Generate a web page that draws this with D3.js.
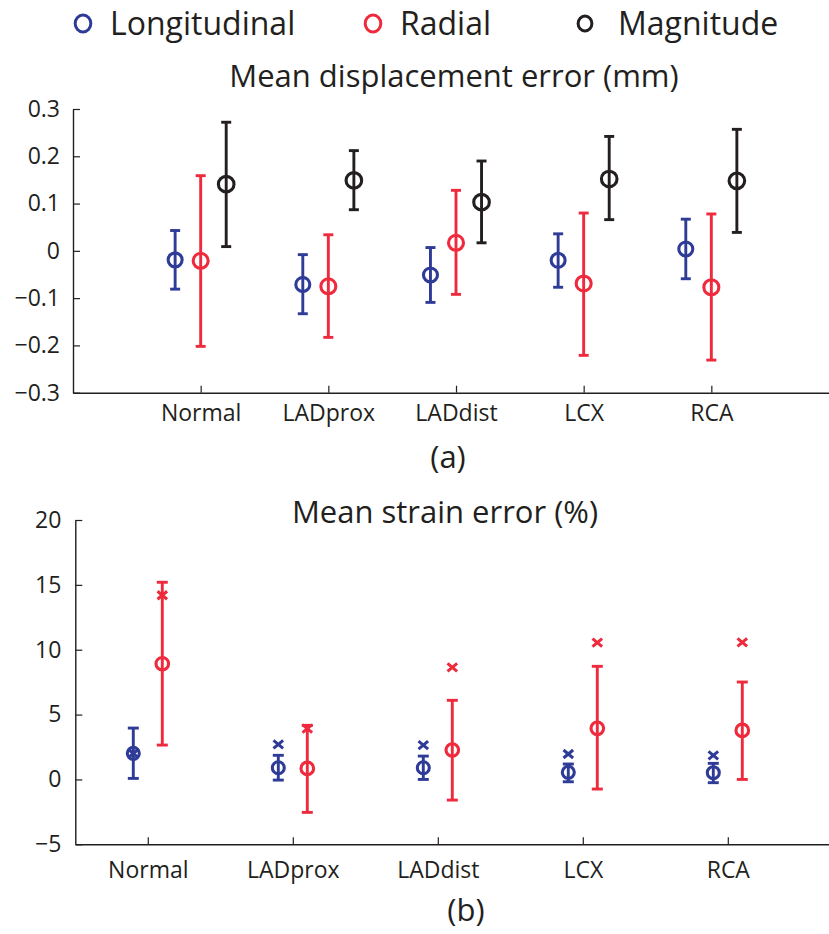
<!DOCTYPE html>
<html>
<head>
<meta charset="utf-8">
<script src="https://cdn.jsdelivr.net/npm/d3@7"></script>
<style>
  body { margin: 0; background: #fff; }
  svg { display: block; font-family: "Open Sans", sans-serif; }
</style>
</head>
<body>
<svg id="chart" width="829" height="934"></svg>
<script>
// categories (shared by both panels)
const categories = ["Normal", "LADprox", "LADdist", "LCX", "RCA"];

// (a) mean displacement error (mm): mean and error-bar ends
const dispLongMean = [-0.019, -0.071, -0.051, -0.020, 0.004];
const dispLongLow  = [-0.081, -0.133, -0.109, -0.077, -0.059];
const dispLongHigh = [0.043, -0.008, 0.007, 0.036, 0.067];
const dispRadMean  = [-0.021, -0.075, 0.017, -0.069, -0.077];
const dispRadLow   = [-0.202, -0.183, -0.092, -0.221, -0.231];
const dispRadHigh  = [0.159, 0.034, 0.128, 0.080, 0.078];
const dispMagMean  = [0.141, 0.149, 0.103, 0.152, 0.148];
const dispMagLow   = [0.009, 0.087, 0.017, 0.066, 0.039];
const dispMagHigh  = [0.272, 0.212, 0.190, 0.242, 0.257];
const dispTicks = [-0.3, -0.2, -0.1, 0, 0.1, 0.2, 0.3];

// (b) mean strain error (%): mean, error-bar ends and the x markers
const strainLongMean = [2.01, 0.90, 0.90, 0.55, 0.52];
const strainLongLow  = [0.08, -0.05, 0.0, -0.18, -0.25];
const strainLongHigh = [3.96, 1.86, 1.80, 1.19, 1.24];
const strainLongX    = [2.0, 2.7, 2.65, 1.96, 1.86];
const strainRadMean  = [8.92, 0.85, 2.27, 3.94, 3.78];
const strainRadLow   = [2.65, -2.54, -1.59, -0.74, 0.0];
const strainRadHigh  = [15.2, 4.17, 6.1, 8.72, 7.51];
const strainRadX     = [14.2, 3.91, 8.64, 10.54, 10.57];
const strainTicks = [-5, 0, 5, 10, 15, 20];

const legendNames = ["Longitudinal", "Radial", "Magnitude"];

const blue = "#2e3b97", red = "#ee2a3c", black = "#231f20";
const fmt = v => (v < 0 ? "\u2212" : "") + Math.abs(v);

const svg = d3.select("#chart");

// legend
const legendX = [83, 373, 585];
const legendColors = [blue, red, black];
const legendR = [8.5, 8.5, 7.5];
const legend = svg.append("g");
legendNames.forEach((name, i) => {
  legend.append("ellipse")
    .attr("cx", legendX[i]).attr("cy", 23.5)
    .attr("rx", legendR[i] * 0.92).attr("ry", legendR[i])
    .attr("fill", "none")
    .attr("stroke", legendColors[i])
    .attr("stroke-width", 3);
  legend.append("text")
    .attr("x", legendX[i] + (i == 2 ? 33 : 27)).attr("y", 35)
    .attr("font-size", 32)
    .attr("fill", black)
    .text(name);
});

function styleAxis(ax) {
  ax.select(".domain").attr("stroke", black).attr("stroke-width", 1.4);
  ax.selectAll(".tick line").attr("stroke", black).attr("stroke-width", 1.2);
  ax.selectAll(".tick text").attr("fill", black).attr("font-size", 23)
    .attr("font-family", "Open Sans, sans-serif");
}

function drawErrorSeries(g, x, y, mean, low, high, offset, color, r, cap) {
  const data = categories.map((c, i) => ({ i: i + 1, m: mean[i], lo: low[i], hi: high[i] }));
  const s = g.append("g")
    .attr("stroke", color)
    .attr("stroke-width", 2.9)
    .attr("fill", "none");
  s.selectAll(".bar").data(data).enter().append("line")
    .attr("x1", d => x(d.i + offset)).attr("x2", d => x(d.i + offset))
    .attr("y1", d => y(d.lo)).attr("y2", d => y(d.hi));
  s.selectAll(".capTop").data(data).enter().append("line")
    .attr("x1", d => x(d.i + offset) - cap).attr("x2", d => x(d.i + offset) + cap)
    .attr("y1", d => y(d.hi)).attr("y2", d => y(d.hi));
  s.selectAll(".capBot").data(data).enter().append("line")
    .attr("x1", d => x(d.i + offset) - cap).attr("x2", d => x(d.i + offset) + cap)
    .attr("y1", d => y(d.lo)).attr("y2", d => y(d.lo));
  s.selectAll("circle").data(data).enter().append("circle")
    .attr("cx", d => x(d.i + offset))
    .attr("cy", d => y(d.m))
    .attr("r", r)
    .attr("stroke-width", 3.1)
    .attr("fill", "none");
}

function drawCrosses(g, x, y, vals, offset, color) {
  const data = vals.map((v, i) => ({ i: i + 1, v: v }));
  g.append("g").selectAll("path").data(data).enter().append("path")
    .attr("transform", d => `translate(${x(d.i + offset)},${y(d.v)})`)
    .attr("d", "M-4.8,-4L4.8,4M-4.8,4L4.8,-4")
    .attr("stroke", color)
    .attr("stroke-width", 3)
    .attr("fill", "none");
}

// ---------- panel (a) ----------
{
  const x = d3.scaleLinear().domain([0, 6]).range([73, 839]);
  const y = d3.scaleLinear().domain([-0.3, 0.3]).range([392.7, 109]);

  svg.append("text")
    .attr("x", 454).attr("y", 87)
    .attr("text-anchor", "middle")
    .attr("font-size", 31)
    .attr("fill", black)
    .text("Mean displacement error (mm)");

  const xa = svg.append("g")
    .attr("transform", `translate(0,${y(-0.3)})`)
    .call(d3.axisBottom(x).tickValues([1, 2, 3, 4, 5])
      .tickFormat(d => categories[d - 1])
      .tickSizeInner(-7).tickSizeOuter(0).tickPadding(12));
  styleAxis(xa);

  const ya = svg.append("g")
    .attr("transform", `translate(${x(0)},0)`)
    .call(d3.axisLeft(y).tickValues(dispTicks).tickFormat(fmt)
      .tickSizeInner(-7).tickSizeOuter(0).tickPadding(13));
  styleAxis(ya);

  const g = svg.append("g");
  drawErrorSeries(g, x, y, dispLongMean, dispLongLow, dispLongHigh, -0.2, blue, 7, 5);
  drawErrorSeries(g, x, y, dispRadMean, dispRadLow, dispRadHigh, 0, red, 7.5, 5);
  drawErrorSeries(g, x, y, dispMagMean, dispMagLow, dispMagHigh, 0.2, black, 7.8, 5);

  svg.append("text")
    .attr("x", 448).attr("y", 468)
    .attr("text-anchor", "middle")
    .attr("font-size", 31)
    .attr("fill", black)
    .text("(a)");
}

// ---------- panel (b) ----------
{
  const x = d3.scaleLinear().domain([0.5, 6]).range([75.3, 872.8]);
  const y = d3.scaleLinear().domain([-5, 20]).range([844.3, 520]);

  svg.append("text")
    .attr("x", 445).attr("y", 523)
    .attr("text-anchor", "middle")
    .attr("font-size", 31)
    .attr("fill", black)
    .text("Mean strain error (%)");

  const xa = svg.append("g")
    .attr("transform", `translate(0,${y(-5)})`)
    .call(d3.axisBottom(x).tickValues([1, 2, 3, 4, 5])
      .tickFormat(d => categories[d - 1])
      .tickSizeInner(-7).tickSizeOuter(0).tickPadding(17));
  styleAxis(xa);

  const ya = svg.append("g")
    .attr("transform", `translate(${x(0.5)},0)`)
    .call(d3.axisLeft(y).tickValues(strainTicks).tickFormat(fmt)
      .tickSizeInner(-7).tickSizeOuter(0).tickPadding(14));
  styleAxis(ya);

  const g = svg.append("g");
  drawErrorSeries(g, x, y, strainLongMean, strainLongLow, strainLongHigh, -0.1, blue, 6, 5.5);
  drawErrorSeries(g, x, y, strainRadMean, strainRadLow, strainRadHigh, 0.1, red, 6.3, 5.5);
  drawCrosses(g, x, y, strainLongX, -0.1, blue);
  drawCrosses(g, x, y, strainRadX, 0.1, red);

  svg.append("text")
    .attr("x", 466).attr("y", 921)
    .attr("text-anchor", "middle")
    .attr("font-size", 31)
    .attr("fill", black)
    .text("(b)");
}
</script>
</body>
</html>
